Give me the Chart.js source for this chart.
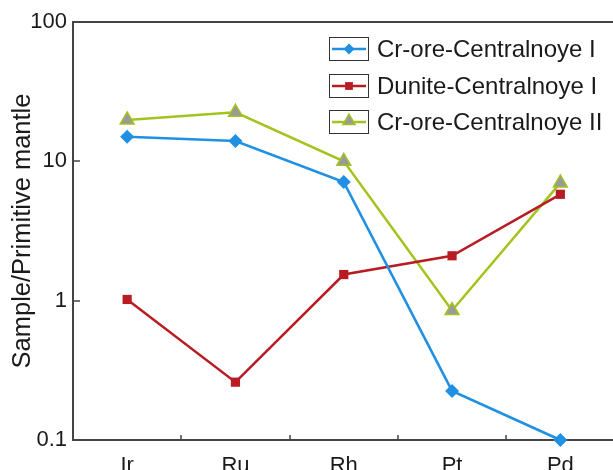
<!DOCTYPE html>
<html><head><meta charset="utf-8">
<script src="https://cdn.jsdelivr.net/npm/chart.js@4/dist/chart.umd.min.js"></script>
<style>
html,body{margin:0;padding:0;overflow:hidden;background:#fff;width:613px;height:470px}
#c{position:absolute;left:0;top:0}
</style></head><body>
<canvas id="c" width="624" height="482" style="width:624px;height:482px"></canvas>
<script>
const categories = ['Ir', 'Ru', 'Rh', 'Pt', 'Pd'];
const crOre1 = [15, 14, 7.1, 0.225, 0.1];
const dunite1 = [1.02, 0.26, 1.54, 2.1, 5.8];
const crOre2 = [19.8, 22.5, 10, 0.85, 7.0];
const yTicks = [0.1, 1, 10, 100];
const seriesNames = ['Cr-ore-Centralnoye I', 'Dunite-Centralnoye I', 'Cr-ore-Centralnoye II'];

const FONT = "'Liberation Sans', Arial, sans-serif";
const BLUE = '#2090e2', RED = '#b81c22', GREEN = '#a2c41e', GRAY = '#9a9a9a', AXIS = '#444';

function drawMarker(ctx, style, x, y, r, fill, stroke, bw) {
  ctx.save();
  ctx.beginPath();
  if (style === 'rectRot') {
    ctx.moveTo(x, y - r); ctx.lineTo(x + r, y); ctx.lineTo(x, y + r); ctx.lineTo(x - r, y);
  } else if (style === 'rect') {
    const s = r * Math.SQRT1_2;
    ctx.rect(x - s, y - s, 2 * s, 2 * s);
  } else {
    ctx.moveTo(x, y - r); ctx.lineTo(x + r * 0.866, y + r * 0.5); ctx.lineTo(x - r * 0.866, y + r * 0.5);
  }
  ctx.closePath();
  ctx.fillStyle = fill; ctx.fill();
  if (bw) { ctx.lineWidth = bw; ctx.strokeStyle = stroke; ctx.stroke(); }
  ctx.restore();
}

const framePlugin = {
  id: 'frame',
  beforeDatasetsDraw(chart) {
    const {ctx, chartArea: a, scales} = chart;
    ctx.save();
    ctx.strokeStyle = AXIS; ctx.lineWidth = 2;
    ctx.strokeRect(a.left, a.top, a.right - a.left, a.bottom - a.top);
    ctx.lineWidth = 1.5;
    ctx.beginPath();
    const ys = scales.y;
    yTicks.forEach(v => {
      const py = Math.round(ys.getPixelForValue(v));
      ctx.moveTo(a.left, py); ctx.lineTo(a.left + 7, py);
    });
    const xs = scales.x;
    for (let i = 0; i < categories.length - 1; i++) {
      const px = Math.round((xs.getPixelForValue(i) + xs.getPixelForValue(i + 1)) / 2);
      ctx.moveTo(px, a.bottom); ctx.lineTo(px, a.bottom - 5);
    }
    ctx.stroke();
    ctx.restore();
  },
  afterDraw(chart) {
    const {ctx} = chart;
    const rows = [49, 86, 122];
    ctx.save();
    chart.data.datasets.forEach((ds, i) => {
      const cy = rows[i];
      ctx.strokeStyle = '#333'; ctx.lineWidth = 1;
      ctx.strokeRect(329.5, cy - 11.5, 39, 23);
      ctx.strokeStyle = ds.borderColor; ctx.lineWidth = 2.5;
      ctx.beginPath(); ctx.moveTo(332, cy); ctx.lineTo(366, cy); ctx.stroke();
      const r = ds.pointStyle === 'triangle' ? 7 : 5.5;
      drawMarker(ctx, ds.pointStyle, 349, ds.pointStyle === 'triangle' ? cy - 1 : cy, r, ds.pointBackgroundColor, ds.pointBorderColor, ds.pointBorderWidth);
      ctx.fillStyle = '#1a1a1a';
      ctx.font = '24px ' + FONT;
      ctx.textBaseline = 'middle';
      ctx.textAlign = 'left';
      ctx.fillText(ds.label, 377, cy + 1);
    });
    ctx.restore();
  }
};

const mk = (label, data, color, style, radius, fill, bw) => ({
  label, data,
  borderColor: color, borderWidth: 2.5, tension: 0,
  pointStyle: style, pointRadius: radius, pointHoverRadius: radius,
  pointBackgroundColor: fill, pointBorderColor: color, pointBorderWidth: bw,
  clip: false
});

new Chart(document.getElementById('c'), {
  type: 'line',
  data: {
    labels: categories,
    datasets: [
      mk(seriesNames[0], crOre1, BLUE, 'rectRot', 7, BLUE, 0),
      mk(seriesNames[1], dunite1, RED, 'rect', 6.5, RED, 0),
      mk(seriesNames[2], crOre2, GREEN, 'triangle', 8, GRAY, 1.5)
    ]
  },
  options: {
    responsive: false,
    animation: false,
    devicePixelRatio: 1,
    layout: {padding: {top: 22, left: 0, right: 4, bottom: 0}},
    plugins: {legend: {display: false}, tooltip: {enabled: false}},
    scales: {
      x: {
        type: 'category',
        offset: true,
        grid: {display: false, drawTicks: false, offset: true},
        border: {display: false},
        ticks: {color: '#1a1a1a', font: {family: FONT, size: 22}, padding: 13, maxRotation: 0, autoSkip: false},
        afterFit(s) { s.height = 42; }
      },
      y: {
        type: 'logarithmic',
        min: 0.1, max: 100,
        grid: {display: false, drawTicks: false},
        border: {display: false},
        afterBuildTicks(s) { s.ticks = yTicks.map(v => ({value: v})); },
        ticks: {
          color: '#1a1a1a', font: {family: FONT, size: 22}, padding: 6,
          callback: v => String(v)
        },
        title: {display: true, text: 'Sample/Primitive mantle', color: '#1a1a1a', font: {family: FONT, size: 25.5}, padding: {top: 8, bottom: 0}},
        afterFit(s) { s.width = 73; }
      }
    }
  },
  plugins: [framePlugin]
});
</script>
</body></html>
